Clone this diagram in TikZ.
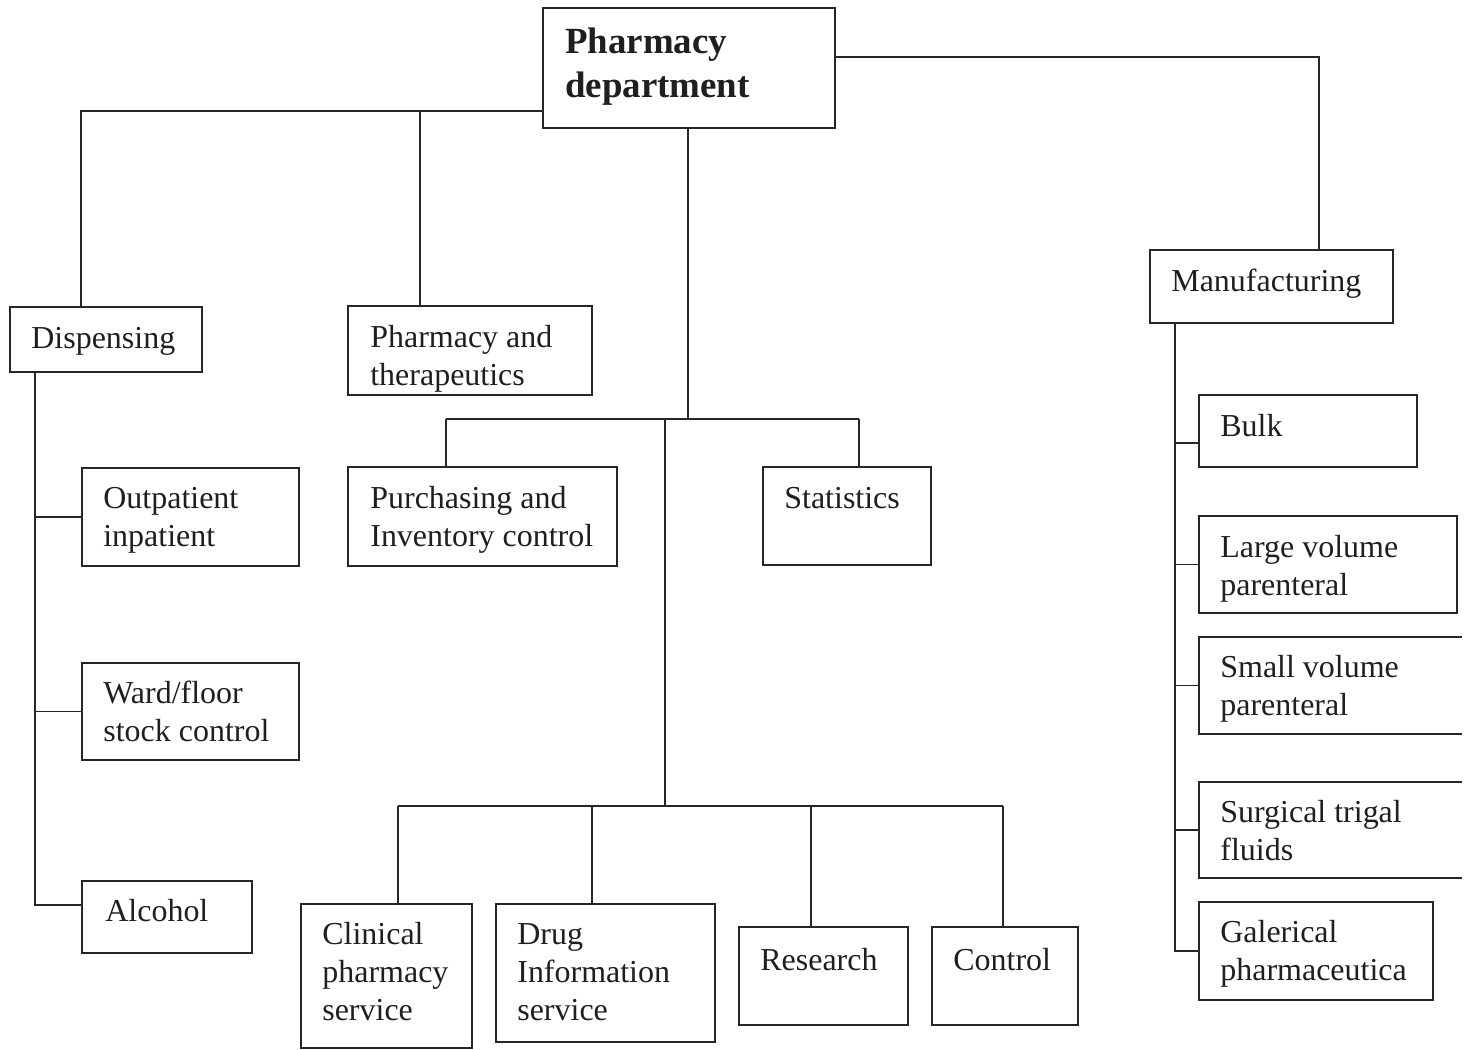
\documentclass[tikz,border=0pt]{standalone}
\usepackage{fontspec}
\setmainfont{Liberation Serif}
\usetikzlibrary{fit}
\newcommand{\ml}[1]{\begin{tabular}[t]{@{}l@{}}#1\end{tabular}}
\tikzset{
  ln/.style={draw=black!85, line width=1.1pt},
  box/.style={ln, inner sep=0pt},
  openbox/.style={inner sep=0pt},
  lbl/.style={anchor=base west, inner sep=0pt, text=black!88, font=\fontsize{18.2}{21.6}\selectfont},
  ttl/.style={anchor=base west, inner sep=0pt, text=black!88, font=\fontsize{21}{25}\selectfont\bfseries}
}
\newcommand{\bx}[8]{\node[box, fit={(#2,#3) (#4,#5)}] (#1) {};\node[lbl] (#1t) at (#6,#7) {\ml{#8}};}
\newcommand{\obx}[8]{\node[openbox, fit={(#2,#3) (#4,#5)}] (#1) {};\draw[ln] (#1.north east) -- (#1.north west) -- (#1.south west) -- (#1.south east);\node[lbl] (#1t) at (#6,#7) {\ml{#8}};}
\begin{document}
\begin{tikzpicture}[x=0.02cm, y=-0.02cm]
\useasboundingbox[fill=white] (0,0) rectangle (1472,1050);
% title
\node[box, fit={(543,8) (835,128)}] (pd) {};
\node[ttl] (pdt) at (565,54) {\begin{tabular}[t]{@{}l@{}}Pharmacy\\department\end{tabular}};
% boxes
\bx{disp}{10}{307}{202}{372}{31}{349}{Dispensing}
\bx{pt}{348}{306}{592}{395}{370}{348}{Pharmacy and\\therapeutics}
\bx{out}{82}{468}{299}{566}{103}{509}{Outpatient\\inpatient}
\bx{ward}{82}{663}{299}{760}{103}{704}{Ward/floor\\stock control}
\bx{alc}{82}{881}{252}{953}{105}{922}{Alcohol}
\bx{pur}{348}{467}{617}{566}{370}{509}{Purchasing and\\Inventory control}
\bx{stat}{763}{467}{931}{565}{784}{509}{Statistics}
\bx{clin}{301}{904}{472}{1048}{322}{945}{Clinical\\pharmacy\\service}
\bx{drug}{496}{904}{715}{1042}{517}{945}{Drug\\Information\\service}
\bx{res}{739}{927}{908}{1025}{760}{970}{Research}
\bx{ctrl}{932}{927}{1078}{1025}{953}{970}{Control}
\bx{manu}{1150}{250}{1393}{323}{1171}{292}{Manufacturing}
\bx{bulk}{1199}{395}{1417}{467}{1220}{437}{Bulk}
\bx{lvp}{1199}{516}{1457}{613}{1220}{558}{Large volume\\parenteral}
\obx{svp}{1199}{637}{1462}{734}{1220}{678}{Small volume\\parenteral}
\obx{stf}{1199}{782}{1462}{878}{1220}{823}{Surgical trigal\\fluids}
\bx{gal}{1199}{902}{1433}{1000}{1220}{943}{Galerical\\pharmaceutica}
% top connectors
\coordinate (pdL) at (543,111);
\coordinate (hL) at (81,111);
\coordinate (hPT) at (420,111);
\draw[ln] (pdL) -- (hL) -- (hL |- disp.north);
\draw[ln] (hPT) -- (hPT |- pt.north);
\coordinate (pdR) at (835,57);
\coordinate (hR) at (1319,57);
\draw[ln] (pdR) -- (hR) -- (hR |- manu.north);
% centre trunk
\coordinate (pdB) at (688,128);
\coordinate (m1) at (688,419);
\coordinate (m1L) at (446,419);
\coordinate (m1R) at (859,419);
\coordinate (m1C) at (665,419);
\draw[ln] (pdB) -- (m1);
\draw[ln] (m1L) -- (m1R);
\draw[ln] (m1L) -- (m1L |- pur.north);
\draw[ln] (m1R) -- (m1R |- stat.north);
\coordinate (m2) at (665,806);
\coordinate (m2L) at (398,806);
\coordinate (m2R) at (1003,806);
\coordinate (m2a) at (592,806);
\coordinate (m2b) at (811,806);
\draw[ln] (m1C) -- (m2);
\draw[ln] (m2L) -- (m2R);
\draw[ln] (m2L) -- (m2L |- clin.north);
\draw[ln] (m2a) -- (m2a |- drug.north);
\draw[ln] (m2b) -- (m2b |- res.north);
\draw[ln] (m2R) -- (m2R |- ctrl.north);
% left bus
\coordinate (lbT) at (35,372);
\coordinate (lbB) at (35,905);
\draw[ln] (lbT) -- (lbB) -- (lbB -| alc.west);
\draw[ln] (out.west -| lbT) -- (out.west);
\draw[ln] (ward.west -| lbT) -- (ward.west);
% right bus
\coordinate (rbT) at (1175,323);
\coordinate (rbB) at (1175,951);
\coordinate (rb1) at (1175,443);
\draw[ln] (rbT) -- (rbB) -- (rbB -| gal.west);
\draw[ln] (rb1) -- (rb1 -| bulk.west);
\draw[ln] (lvp.west -| rbT) -- (lvp.west);
\draw[ln] (svp.west -| rbT) -- (svp.west);
\draw[ln] (stf.west -| rbT) -- (stf.west);
\end{tikzpicture}
\end{document}
